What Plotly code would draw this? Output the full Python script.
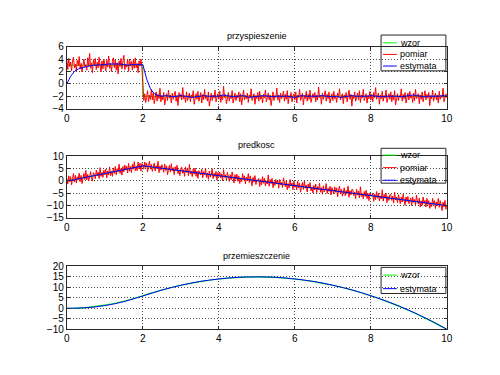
import plotly.graph_objects as go

# ---------------- data ----------------
tick_x = [0, 2, 4, 6, 8, 10]
tick_acc = [-4, -2, 0, 2, 4, 6]
tick_vel = [-15, -10, -5, 0, 5, 10]
tick_pos = [-10, -5, 0, 5, 10, 15, 20]

titles = ["przyspieszenie", "predkosc", "przemieszczenie"]
names = ["wzor", "pomiar", "estymata"]

# model (wzor)
wzor_acc_t = [0, 2, 2, 10]
wzor_acc = [3, 3, -2, -2]
wzor_vel_t = [0, 2, 10]
wzor_vel = [0, 6, -10]
wzor_pos_t = [0, 0.5, 1, 1.5, 2, 2.5, 3, 3.5, 4, 4.5, 5, 5.5, 6, 6.5, 7, 7.5, 8, 8.5, 9, 9.5, 10]
wzor_pos = [0, 0.375, 1.5, 3.375, 6, 8.75, 11, 12.75, 14, 14.75, 15, 14.75, 14, 12.75, 11, 8.75,
            6, 2.75, -1, -5.25, -10]

# measurements (pomiar), sampled every 0.025 s
pomiar_acc = [
    3.9, 2.3, 4.1, 2.8, 3.5, 2.1, 3.7, 4.3, 2.6, 3.2, 2.0, 3.8, 2.9, 4.4, 2.4, 3.3, 1.9, 3.6, 4.0, 2.7,
    3.1, 2.2, 4.2, 2.8, 4.9, 2.5, 3.4, 1.8, 3.9, 3.0, 4.1, 2.3, 3.5, 2.6, 4.3, 2.9, 1.9, 3.7, 2.4, 4.0,
    3.2, 2.1, 3.8, 2.7, 4.5, 2.5, 3.3, 2.0, 3.6, 4.2, 2.6, 3.9, 2.2, 3.4, 1.6, 3.7, 2.8, 4.1, 2.4, 3.5,
    4.6, 2.3, 3.1, 2.7, 3.9, 2.0, 4.0, 2.9, 3.6, 2.2, 3.8, 2.5, 4.2, 2.6, 3.3, 1.8, 3.7, 2.9, 4.0, 2.7,
    -1.2, -2.7, -1.6, -3.0, -2.2, -1.1, -2.9, -1.8, -2.5, -0.9, -2.6, -1.5, -3.2, -2.0, -1.3, -2.8, -1.7, -2.4, -0.7, -2.9,
    -1.9, -2.6, -1.4, -3.4, -2.1, -1.6, -2.7, -1.0, -2.3, -1.8, -3.1, -1.5, -2.5, -2.0, -1.2, -2.8, -1.9, -3.5, -1.4, -2.2,
    -1.7, -2.6, -0.6, -2.4, -1.9, -3.0, -1.3, -2.7, -2.1, -1.5, -2.9, -1.8, -2.3, -1.1, -3.3, -2.0, -1.6, -2.5, -1.2, -2.8,
    -2.2, -1.4, -3.1, -1.7, -2.6, -0.9, -2.4, -1.9, -2.8, -1.3, -3.6, -2.0, -1.5, -2.7, -1.8, -2.3, -1.0, -2.9, -2.1, -1.6,
    -2.5, -1.2, -3.0, -1.8, -2.6, -0.4, -2.2, -1.7, -3.2, -2.0, -1.4, -2.8, -1.9, -2.4, -1.1, -3.1, -2.0, -1.5, -2.7, -1.8,
    -2.3, -1.3, -2.9, -1.6, -3.4, -2.1, -1.0, -2.6, -1.9, -2.4, -1.5, -3.0, -1.8, -2.2, -0.8, -2.7, -2.0, -1.6, -3.3, -1.9,
    -2.4, -1.4, -2.8, -1.2, -2.5, -1.9, -3.1, -1.7, -2.3, -1.0, -2.9, -2.1, -1.5, -2.6, -1.8, -3.5, -2.0, -1.3, -2.7, -1.9,
    -2.2, -0.7, -2.6, -1.8, -3.0, -1.5, -2.4, -2.0, -1.2, -2.8, -1.7, -2.5, -1.1, -3.2, -1.9, -2.3, -1.4, -2.9, -2.0, -1.6,
    -2.6, -1.3, -3.1, -1.8, -2.2, -0.9, -2.7, -2.0, -1.5, -3.4, -1.9, -2.4, -1.2, -2.8, -1.7, -2.5, -1.0, -3.0, -2.1, -1.6,
    -2.3, -1.4, -2.9, -1.8, -2.6, -0.5, -2.2, -1.9, -3.3, -1.5, -2.5, -2.0, -1.1, -2.8, -1.7, -2.4, -1.3, -3.1, -2.0, -1.6,
    -2.7, -1.2, -2.4, -1.9, -3.0, -1.5, -2.2, -0.8, -2.6, -2.0, -1.6, -3.2, -1.8, -2.3, -1.4, -2.9, -2.1, -1.0, -2.5, -1.7,
    -3.6, -1.9, -2.4, -1.3, -2.8, -2.0, -1.5, -2.6, -1.1, -3.0, -1.8, -2.3, -0.9, -2.7, -2.1, -1.6, -3.1, -1.9, -2.4, -1.2,
    -2.6, -1.7, -2.9, -1.4, -2.2, -0.6, -2.5, -2.0, -1.5, -3.3, -1.8, -2.4, -1.2, -2.8, -1.9, -2.3, -1.0, -3.0, -2.1, -1.6,
    -2.5, -1.3, -2.9, -1.8, -2.6, -1.1, -3.4, -2.0, -1.6, -2.7, -1.9, -2.2, -0.8, -2.8, -1.7, -2.4, -1.4, -3.1, -2.0, -1.5,
    -2.6, -1.2, -2.3, -1.9, -3.0, -1.5, -2.7, -0.9, -2.4, -2.0, -1.6, -3.2, -1.8, -2.5, -1.3, -2.9, -2.1, -1.1, -2.6, -1.7,
    -2.3, -1.4, -3.5, -1.9, -2.4, -1.0, -2.8, -2.0, -1.5, -2.6, -1.8, -3.1, -1.2, -2.5, -1.9, -2.2, -0.7, -2.9, -2.0, -1.6,
    -2.3]
pomiar_vel = [
    0.9, -1.3, 2.0, -0.4, 1.7, -1.6, 0.8, 2.9, -0.5, 2.2, -0.9, 1.6, 0.5, 3.1, -0.3, 2.2, -1.1, 1.7, 3.0, 0.5,
    4.2, 0.4, 2.6, -0.1, 2.4, 3.7, 1.2, -0.1, 3.3, 2.6, 0.9, 4.3, 2.1, 3.5, 0.9, 5.3, 1.8, 3.4, 1.4, 4.3,
    2.4, 4.7, 1.2, 4.0, 2.3, 5.6, 2.1, 3.8, 1.8, 5.2, 3.0, 5.8, 2.4, 4.9, 3.6, 6.7, 3.0, 4.9, 2.3, 5.8,
    3.6, 6.4, 4.4, 5.9, 3.2, 7.0, 3.9, 5.8, 3.3, 6.7, 4.7, 7.7, 4.1, 5.9, 4.1, 7.6, 4.8, 7.1, 3.9, 7.0,
    6.3,
    4.7, 7.6, 5.4, 7.2, 3.6, 6.3, 7.9, 4.7, 6.6, 3.8, 5.7, 7.2, 4.0, 6.1, 4.9, 7.9, 3.3, 6.0, 4.3, 6.5,
    5.4, 3.4, 6.8, 4.2, 6.0, 2.4, 4.8, 6.3, 3.5, 6.9, 4.0, 5.3, 2.5, 5.7, 4.1, 6.3, 2.9, 4.4, 2.1, 5.1,
    5.5, 3.0, 4.5, 1.8, 5.6, 3.4, 4.9, 2.1, 6.6, 2.7, 3.9, 1.7, 4.7, 2.7, 5.2, 1.8, 3.9, 1.0, 4.1, 3.1,
    2.3, 4.7, 1.2, 3.7, 2.4, 5.0, 1.4, 3.2, 0.6, 4.0, 1.5, 2.7, 4.9, 0.9, 3.0, 1.7, 3.8, 0.3, 3.3, 1.8,
    3.5, 1.1, 2.8, 0.0, 4.5, 1.4, 2.4, 0.2, 3.4, 1.8, -0.2, 2.5, 0.4, 3.6, 1.8, -0.9, 2.5, 0.6, 2.7, -0.2,
    2.0, -1.1, 1.2, -0.4, 2.9, 0.5, 2.0, -1.2, 1.5, 0.0, 2.9, -0.7, 2.0, 0.4, -2.0, 1.4, -0.5, 2.1, -1.5, 0.4,
    0.1, 1.0, -2.3, 0.6, -1.6, 1.7, -1.0, 1.0, -2.1, -0.1, -1.3, 2.4, -2.2, 0.5, -1.1, 1.0, -2.8, -0.3, -1.9, 0.5,
    -1.2, 0.1, -3.0, 0.5, -1.7, -0.5, -2.7, 1.2, -1.2, -2.4, 0.0, -3.6, -1.1, -2.9, 0.5, -2.1, -0.9, -3.6, -0.1, -2.6,
    -1.6, -3.6, -0.2, -2.8, -1.0, -4.6, -2.2, -0.7, -3.5, -0.1, -3.0, -1.7, -4.5, -1.3, -2.9, -0.7, -4.1, -2.6, -4.9, -1.9,
    -3.7, -1.3, -4.8, -2.3, -3.6, -1.0, -4.6, -2.8, -5.4, -2.0, -4.5, -3.3, -1.1, -5.1, -3.0, -4.3, -2.2, -5.7, -2.7, -4.2,
    -5.3, -2.4, -4.6, -2.8, -6.4, -3.7, -2.1, -5.3, -3.4, -6.2, -4.3, -2.8, -6.0, -3.9, -5.1, -2.1, -6.7, -4.0, -5.7, -3.5,
    -3.5, -6.0, -4.5, -7.2, -3.4, -5.6, -4.1, -6.9, -2.4, -6.3, -5.1, -7.3, -4.3, -6.3, -3.8, -7.2, -5.1, -8.0, -4.9, -5.9,
    -5.9, -5.0, -8.3, -5.4, -7.6, -4.3, -7.0, -5.0, -8.1, -6.1, -7.3, -3.6, -8.2, -5.5, -7.1, -5.0, -8.8, -6.3, -7.9, -5.5,
    -5.5, -7.9, -6.2, -9.0, -4.5, -7.6, -6.6, -8.8, -5.6, -7.2, -9.2, -6.5, -8.6, -5.4, -7.2, -9.9, -6.5, -8.4, -6.3, -9.2,
    -8.2, -6.9, -10.0, -6.5, -8.7, -7.5, -9.7, -5.8, -8.2, -9.4, -7.0, -10.6, -8.1, -9.9, -6.5, -9.1, -7.9, -10.6, -7.1, -9.6,
    -8.0, -11.1, -8.8, -10.4, -7.1, -9.5, -8.0, -11.2, -8.5, -10.0, -7.1, -10.7, -8.0, -9.6, -12.0, -8.6, -10.5, -7.9, -11.5, -9.6]
t_meas = [round(0.025 * i, 3) for i in range(len(pomiar_acc))]

# estimates (estymata), sampled every 0.1 s
est_acc = [
    0.0, 1.2, 2.0, 2.4, 2.6, 2.8, 2.9, 3.0, 3.0, 3.1, 3.1, 3.2, 3.2, 3.3, 3.2, 3.1, 3.0, 3.1, 3.1, 3.2,
    3.1, 0.8, -0.8, -1.6, -1.9,
    -2.0, -1.9, -2.0, -2.1, -2.0, -1.9, -2.0, -2.1, -2.2, -2.1, -2.0, -1.9, -2.0, -2.0, -2.1,
    -2.0, -1.8, -1.9, -2.0, -2.1, -2.0, -1.9, -2.0, -2.2, -2.1, -2.0, -2.0, -1.9, -2.0, -2.1,
    -2.0, -2.0, -1.9, -2.0, -2.1, -2.2, -2.0, -1.9, -2.0, -2.0, -2.1, -2.0, -1.9, -2.0, -2.0,
    -2.1, -2.0, -2.2, -2.1, -2.0, -1.9, -2.0, -2.0, -2.1, -2.0, -1.9, -2.0, -2.0, -2.1, -2.0,
    -2.0, -1.9, -2.0, -2.1, -2.0, -2.0, -1.8, -1.9, -2.0, -2.1, -2.0, -2.0, -2.1, -2.0, -1.9,
    -2.0]
est_vel = [
    0.0, 0.1, 0.4, 0.8, 1.1, 1.5, 1.8, 2.1, 2.4, 2.7, 3.0, 3.3, 3.6, 3.9, 4.2, 4.5, 4.8, 5.1, 5.4, 5.7,
    6.0,
    5.9, 5.7, 5.4, 5.2, 5.0, 4.8, 4.6, 4.4, 4.2, 4.0,
    3.8, 3.6, 3.4, 3.2, 3.1, 2.8, 2.6, 2.4, 2.2, 2.0,
    1.8, 1.6, 1.4, 1.2, 1.0, 0.8, 0.6, 0.4, 0.2, 0.0,
    -0.2, -0.4, -0.6, -0.8, -1.0, -1.2, -1.4, -1.6, -1.8, -2.0,
    -2.2, -2.4, -2.6, -2.8, -3.0, -3.2, -3.4, -3.6, -3.8, -4.0,
    -4.2, -4.4, -4.6, -4.8, -5.0, -5.2, -5.4, -5.6, -5.8, -6.0,
    -6.2, -6.4, -6.6, -6.8, -7.0, -7.2, -7.4, -7.6, -7.8, -8.0,
    -8.2, -8.4, -8.6, -8.8, -9.0, -9.2, -9.4, -9.6, -9.8, -10.0]
t_est = [round(0.1 * i, 1) for i in range(len(est_vel))]
est_pos_t = wzor_pos_t
est_pos = [0, 0.3, 1.3, 3.2, 5.9, 8.7, 11.0, 12.8, 14.0, 14.8, 15.0, 14.8, 14.0, 12.8, 11.0, 8.8,
           6.0, 2.8, -0.9, -5.2, -10.0]

# ---------------- styling ----------------
W, H = 500, 375
GREEN, RED, BLUE = "rgb(0,255,0)", "rgb(255,0,0)", "rgb(0,0,255)"
FONT = "Liberation Sans, Arial, sans-serif"


def px(x):
    return x / W


def py(y):
    return 1 - y / H


x_dom = [px(65), px(452)]
y_doms = [[py(106), py(42)], [py(219), py(155)], [py(334), py(269)]]
y_ranges = [[-4, 6], [-15, 10], [-10, 20]]
y_ticks = [tick_acc, tick_vel, tick_pos]

fig = go.Figure()


def line(x, y, color, ax, shape="linear", width=1):
    fig.add_trace(go.Scatter(x=x, y=y, mode="lines", line=dict(color=color, width=width, shape=shape),
                             xaxis="x" + ax, yaxis="y" + ax, showlegend=False, hoverinfo="skip"))


# subplot 1
line(wzor_acc_t, wzor_acc, GREEN, "")
line(t_meas[:len(pomiar_acc)], pomiar_acc, RED, "")
line(t_est[:len(est_acc)], est_acc, BLUE, "")
# subplot 2
line(wzor_vel_t, wzor_vel, GREEN, "2")
line(t_meas[:len(pomiar_vel)], pomiar_vel, RED, "2")
line(t_est, est_vel, BLUE, "2")
# subplot 3
line(wzor_pos_t, wzor_pos, GREEN, "3", shape="spline", width=1.2)
line(est_pos_t, est_pos, BLUE, "3", shape="spline")

axis_common = dict(showline=True, mirror="ticks", linecolor="rgb(40,40,40)", linewidth=1,
                   ticks="inside", ticklen=3, tickcolor="rgb(40,40,40)",
                   showgrid=True, gridcolor="rgb(70,70,70)", griddash="1px,2px", gridwidth=1,
                   zeroline=False, tickfont=dict(family=FONT, size=10, color="black"))

layout = dict(width=W, height=H, margin=dict(l=0, r=0, t=0, b=0),
              paper_bgcolor="white", plot_bgcolor="white", showlegend=False)
suffixes = ["", "2", "3"]
for i, s in enumerate(suffixes):
    layout["xaxis" + s] = dict(domain=x_dom, range=[0, 10], tickvals=tick_x, anchor="y" + s, **axis_common)
    layout["yaxis" + s] = dict(domain=y_doms[i], range=y_ranges[i], tickvals=y_ticks[i], anchor="x" + s,
                               **axis_common)
fig.update_layout(**layout)

annotations = []
shapes = []
title_y = [31, 144, 258]
for i, t in enumerate(titles):
    annotations.append(dict(text=t, x=px(258.5), y=py(title_y[i]), xref="paper", yref="paper",
                            showarrow=False, xanchor="center", yanchor="middle",
                            font=dict(family=FONT, size=9, color="black")))

# manual legends (box, line samples, labels)
legend_specs = [
    dict(box=(385, 30, 451, 67), items=[(names[0], GREEN, 38), (names[1], RED, 50), (names[2], BLUE, 62)]),
    dict(box=(385, 147, 451, 183), items=[(names[0], GREEN, 154), (names[1], RED, 167), (names[2], BLUE, 180)]),
    dict(box=(385, 270, 451, 297), items=[(names[0], GREEN, 278), (names[2], BLUE, 292)]),
]
for spec in legend_specs:
    x0, y0, x1, y1 = spec["box"]
    shapes.append(dict(type="rect", xref="paper", yref="paper", x0=px(x0), x1=px(x1), y0=py(y1), y1=py(y0),
                       line=dict(color="rgb(40,40,40)", width=1), fillcolor="rgba(0,0,0,0)", layer="above"))
    for name, col, yy in spec["items"]:
        shapes.append(dict(type="line", xref="paper", yref="paper", x0=px(387), x1=px(401), y0=py(yy), y1=py(yy),
                           line=dict(color=col, width=1), layer="above"))
        annotations.append(dict(text=name, x=px(402), y=py(yy), xref="paper", yref="paper", showarrow=False,
                                xanchor="left", yanchor="middle",
                                font=dict(family=FONT, size=9, color="black")))

fig.update_layout(annotations=annotations, shapes=shapes)
fig.write_html("out.html", config={"displayModeBar": False},
               post_script="document.body.style.margin='0px';")
